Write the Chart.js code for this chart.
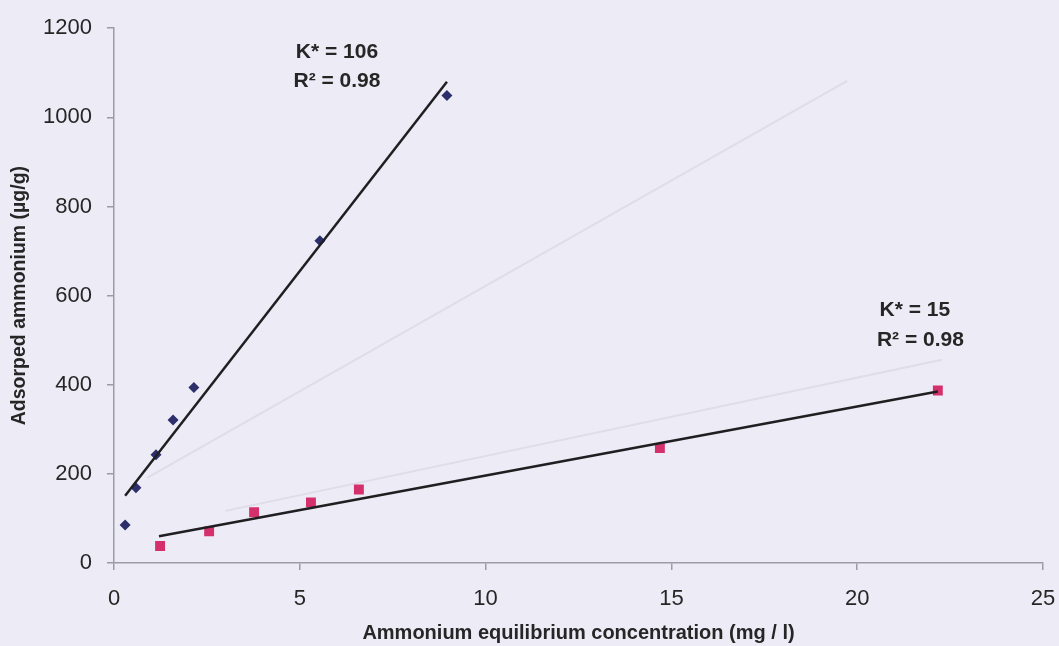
<!DOCTYPE html>
<html lang="en">
  <head>
    <meta charset="UTF-8" />
    <meta name="viewport" content="width=device-width, initial-scale=1.0" />
    <script src="https://cdn.jsdelivr.net/npm/chart.js@4/dist/chart.umd.min.js"></script>
    <title>Ammonium adsorption</title>
    <style>
      html, body { margin: 0; padding: 0; background: #edecf6; }
      #wrap { width: 1059px; height: 646px; }
    </style>
  </head>
  <body>
    <div id="wrap"><canvas id="chart" width="1059" height="646"></canvas></div>
    <script>
      let blueX = [0.30, 0.59, 1.13, 1.59, 2.15, 5.54, 8.96];
      let blueY = [85, 169, 243, 321, 394, 723, 1049];
      let pinkX = [1.24, 2.56, 3.77, 5.30, 6.59, 14.69, 22.17];
      let pinkY = [38, 71, 114, 136, 165, 258, 387];

      // fitted lines (end points)
      let blueFitX = [0.30, 8.96];
      let blueFitY = [151, 1080];
      let pinkFitX = [1.21, 22.17];
      let pinkFitY = [60, 385];

      // faint lines showing through from the next page
      let ghost1X = [0.89, 19.73];
      let ghost1Y = [191, 1082];
      let ghost2X = [3.0, 22.28];
      let ghost2Y = [117, 456];

      let labels = [
        { x: 6.0, y: 1147, text: "K* = 106" },
        { x: 6.0, y: 1080, text: "R\u00B2 = 0.98" },
        { x: 21.55, y: 567, text: "K* = 15" },
        { x: 21.7, y: 500, text: "R\u00B2 = 0.98" },
      ];

      const font = "Arial, 'Liberation Sans', sans-serif";
      const axisGrey = "#9c9ca6";
      const textDark = "#262626";

      function pts(xs, ys) {
        return xs.map((x, i) => ({ x: x, y: ys[i] }));
      }

      const background = {
        id: "background",
        beforeDraw(chart) {
          const ctx = chart.ctx;
          ctx.save();
          ctx.fillStyle = "#edecf6";
          ctx.fillRect(0, 0, chart.width, chart.height);
          ctx.restore();
        },
      };

      const fitLabels = {
        id: "fitLabels",
        afterDatasetsDraw(chart) {
          const ctx = chart.ctx;
          const xs = chart.scales.x;
          const ys = chart.scales.y;
          ctx.save();
          ctx.font = "bold 21px " + font;
          ctx.fillStyle = textDark;
          ctx.textAlign = "center";
          ctx.textBaseline = "middle";
          labels.forEach((l) => {
            ctx.fillText(l.text, xs.getPixelForValue(l.x), ys.getPixelForValue(l.y));
          });
          ctx.restore();
        },
      };

      const ctx = document.getElementById("chart");
      new Chart(ctx, {
        type: "scatter",
        data: {
          datasets: [
            {
              type: "line",
              data: pts(ghost1X, ghost1Y),
              borderColor: "rgba(140,140,160,0.16)",
              borderWidth: 2,
              pointRadius: 0,
            },
            {
              type: "line",
              data: pts(ghost2X, ghost2Y),
              borderColor: "rgba(140,140,160,0.16)",
              borderWidth: 2,
              pointRadius: 0,
            },
            {
              type: "line",
              data: pts(blueFitX, blueFitY),
              borderColor: "#1f1f22",
              borderWidth: 2.5,
              pointRadius: 0,
            },
            {
              type: "line",
              data: pts(pinkFitX, pinkFitY),
              borderColor: "#1f1f22",
              borderWidth: 2.5,
              pointRadius: 0,
            },
            {
              data: pts(blueX, blueY),
              pointStyle: "rectRot",
              pointRadius: 5.5,
              backgroundColor: "#2d2f6c",
              borderColor: "#2d2f6c",
              borderWidth: 0,
            },
            {
              data: pts(pinkX, pinkY),
              pointStyle: "rect",
              pointRadius: 7,
              backgroundColor: "#d3306c",
              borderColor: "#d3306c",
              borderWidth: 0,
            },
          ],
        },
        options: {
          responsive: false,
          animation: false,
          layout: { padding: { top: 24, right: 0, left: 0, bottom: 0 } },
          plugins: {
            legend: { display: false },
            tooltip: { enabled: false },
          },
          scales: {
            x: {
              type: "linear",
              min: 0,
              max: 25,
              afterFit(scale) {
                scale.height = 83;
                scale.paddingLeft = 0;
                scale.paddingRight = 16;
              },
              ticks: {
                stepSize: 5,
                padding: 16,
                color: textDark,
                font: { family: font, size: 22 },
                callback: (v) => String(v),
              },
              grid: { drawOnChartArea: false, drawTicks: true, tickLength: 7, color: axisGrey, lineWidth: 1.5 },
              border: { color: axisGrey, width: 1.5 },
              title: {
                display: true,
                text: "Ammonium equilibrium concentration (mg / l)",
                color: textDark,
                font: { family: font, size: 20, weight: "bold" },
                padding: { top: 0, bottom: 1 },
              },
            },
            y: {
              type: "linear",
              min: 0,
              max: 1200,
              afterFit(scale) { scale.width = 114; },
              ticks: {
                stepSize: 200,
                padding: 15,
                color: textDark,
                font: { family: font, size: 22 },
                callback: (v) => String(v),
              },
              grid: { drawOnChartArea: false, drawTicks: true, tickLength: 7, color: axisGrey, lineWidth: 1.5 },
              border: { color: axisGrey, width: 1.5 },
              title: {
                display: true,
                text: "Adsorped ammonium (\u00B5g/g)",
                color: textDark,
                font: { family: font, size: 19.5, weight: "bold" },
                padding: { top: 8, bottom: 0 },
              },
            },
          },
        },
        plugins: [background, fitLabels],
      });
    </script>
  </body>
</html>
